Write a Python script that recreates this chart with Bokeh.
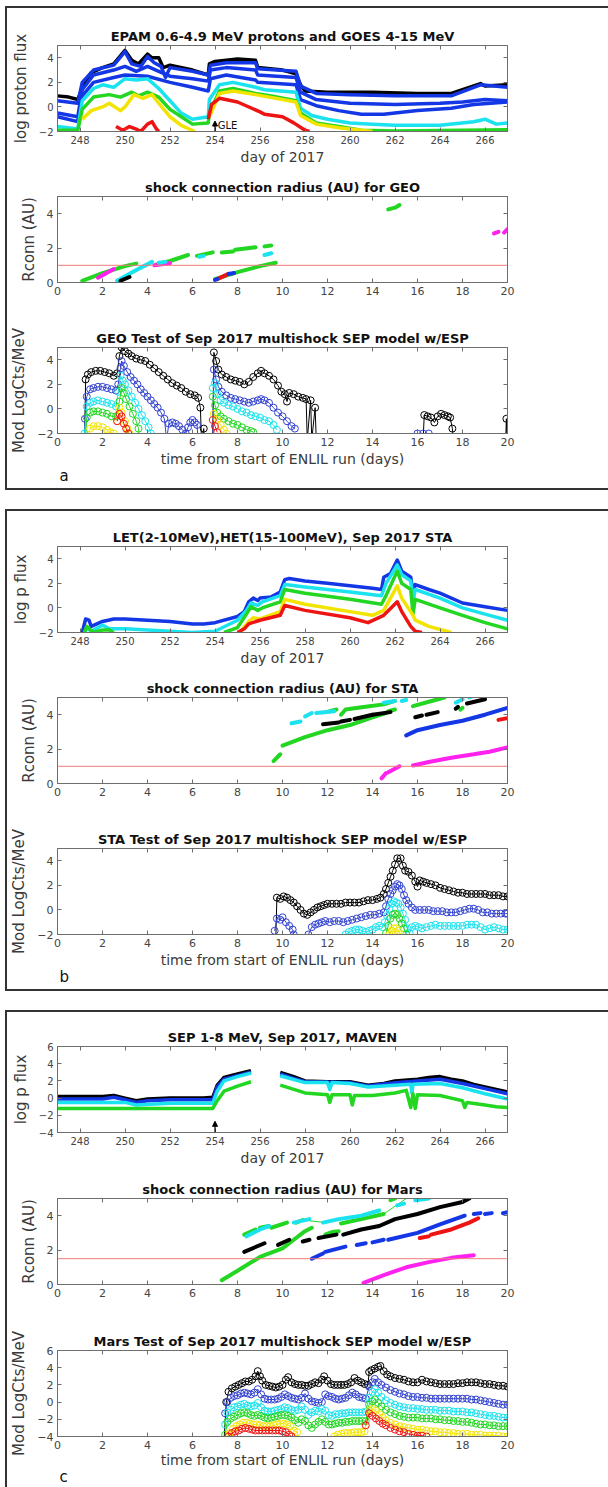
from bokeh.plotting import figure
from bokeh.layouts import column
from bokeh.models import (FixedTicker, LinearAxis, Range1d, Span, Label, Arrow,
                          NormalHead, CustomJSTickFormatter, Title)
from bokeh.embed import file_html
from bokeh.resources import INLINE

NAN = float("nan")
FONT = "DejaVu Sans"
AXC = "#6e6e6e"
TXT = "#3a3a3a"

C_BLACK = "#000000"
C_BLUE = "#1437e6"
C_MBLUE = "#3343cf"
C_CYAN = "#1ae2ee"
C_GREEN = "#22d622"
C_YELLOW = "#f2e400"
C_RED = "#ee1414"
C_MAG = "#ff22ee"
C_RLINE = "#f07a7a"

# ---------------- tick labels / ranges ----------------
DAY_TICKS = [248, 250, 252, 254, 256, 258, 260, 262, 264, 266]
RUN_TICKS = [0, 2, 4, 6, 8, 10, 12, 14, 16, 18, 20]
Y_TICKS_A = [-2, 0, 2, 4]
Y_TICKS_R = [0, 2, 4]
Y_TICKS_C = [-4, -2, 0, 2, 4, 6]

# ---------------- panel a: EPAM / GOES (day of 2017, log flux) ----------------
EPAM_BLACK = [(247.0, 0.9), (247.5, 0.8), (247.9, 0.6), (248.05, 1.3), (248.2, 2.0), (248.5, 2.8),
              (249.0, 3.2), (249.5, 3.5), (250.0, 4.6), (250.3, 3.8), (250.6, 3.5), (251.0, 4.3),
              (251.2, 4.0), (251.5, 4.0), (251.7, 3.2), (252.0, 3.4), (253.0, 3.0), (253.7, 2.6),
              (253.75, 3.5), (254.0, 3.7), (255.0, 3.9), (255.8, 3.8), (255.9, 3.2), (257.0, 3.0),
              (257.6, 2.7), (257.8, 1.8), (258.0, 1.3), (259.0, 1.2), (261.0, 1.2), (263.0, 1.1),
              (264.5, 1.1), (265.0, 1.4), (265.8, 1.9), (266.0, 1.7), (267.0, 1.8)]
EPAM_BLUE1 = [(247.0, 0.5), (247.9, 0.3), (248.1, 2.0), (248.6, 3.0), (249.5, 3.4), (250.0, 4.5),
              (250.3, 3.5), (250.7, 3.3), (251.0, 4.1), (251.3, 3.6), (251.6, 3.3), (251.8, 2.4),
              (252.0, 3.2), (253.0, 2.9), (253.7, 2.6), (253.8, 3.4), (254.5, 3.6), (255.8, 3.6),
              (255.9, 3.1), (257.6, 2.9), (257.8, 1.7), (258.5, 1.1), (260.0, 1.0), (262.0, 0.9),
              (264.5, 0.9), (265.8, 1.8), (267.0, 1.6)]
EPAM_BLUE2 = [(247.0, -0.5), (247.9, -0.8), (248.1, 1.4), (248.6, 2.6), (249.5, 3.0), (250.0, 3.3),
              (250.5, 2.9), (251.0, 3.3), (251.5, 2.9), (252.0, 2.5), (253.0, 2.3), (253.7, 2.1),
              (253.8, 3.0), (254.5, 3.2), (255.8, 3.0), (255.9, 2.6), (257.6, 2.4), (257.8, 1.2),
              (258.5, 0.6), (260.0, 0.3), (262.0, 0.2), (264.0, 0.3), (265.0, 0.4), (266.0, 0.6),
              (267.0, 0.5)]
EPAM_BLUE3 = [(247.0, -0.8), (247.9, -1.2), (248.1, 0.9), (248.6, 2.0), (249.5, 2.4), (250.0, 2.6),
              (251.0, 2.5), (252.0, 2.0), (253.0, 1.6), (253.7, 1.3), (253.8, 2.3), (254.5, 2.6),
              (255.8, 2.2), (255.9, 2.0), (257.6, 1.8), (257.8, 0.6), (258.5, 0.1), (259.5, -0.3),
              (260.5, -0.6), (261.5, -0.6), (263.0, -0.3), (264.5, -0.1), (265.5, 0.2), (267.0, 0.4)]
EPAM_CYAN = [(247.0, -1.6), (247.9, -1.8), (248.1, 0.5), (248.6, 1.5), (249.0, 1.8), (249.5, 1.6),
             (250.0, 2.3), (250.5, 2.2), (251.0, 2.3), (251.5, 1.5), (252.0, 0.5), (252.5, -0.5),
             (253.0, -1.0), (253.7, -0.8), (253.75, 0.6), (254.2, 1.8), (254.8, 2.0), (255.8, 1.6),
             (256.2, 1.4), (257.6, 1.2), (257.8, -0.1), (258.3, -0.7), (259.0, -1.0), (260.0, -1.3),
             (261.0, -1.4), (262.0, -1.5), (264.0, -1.5), (265.5, -1.2), (266.0, -1.0), (266.5, -1.4),
             (267.0, -1.3)]
EPAM_GREEN = [(247.0, -1.9), (247.9, -1.9), (248.1, -0.2), (248.6, 0.8), (249.3, 1.0), (249.8, 0.8),
              (250.3, 1.2), (250.6, 0.9), (251.0, 1.2), (251.5, 0.8), (252.0, -0.2), (252.5, -0.8),
              (253.0, -1.4), (253.7, -1.3), (253.75, -0.5), (254.2, 1.3), (254.8, 1.5), (255.8, 1.1),
              (256.5, 0.9), (257.6, 0.5), (257.8, -0.5), (258.5, -1.3), (259.5, -1.6), (260.5, -1.9),
              (262.0, -1.95), (265.0, -1.9), (267.0, -1.85)]
EPAM_YELLOW = [(248.1, -1.0), (248.5, -0.3), (249.0, 0.0), (249.3, 0.3), (249.8, -0.3), (250.0, 0.0),
               (250.4, 1.0), (250.8, 0.7), (251.2, 1.0), (251.5, 0.3), (252.0, -0.8), (252.5, -1.5),
               (253.1, -2.0), (NAN, NAN), (253.75, -0.8), (254.2, 1.1), (254.8, 1.3), (255.8, 1.0),
               (257.6, 0.4), (257.8, -0.7), (258.5, -1.4), (259.5, -1.7), (260.5, -1.9), (261.0, -2.0)]
GOES_RED = [(249.6, -1.6), (249.9, -1.9), (250.2, -1.6), (250.5, -1.8), (250.7, -2.0), (251.0, -1.4),
            (251.2, -1.2), (251.4, -1.8), (251.5, -2.0), (NAN, NAN), (253.7, -1.0), (253.85, 0.2),
            (254.2, 0.7), (255.0, 0.4), (256.0, -0.4), (256.2, -0.6), (257.0, -0.8), (257.5, -1.3),
            (258.0, -1.9), (258.2, -2.0)]
GLE_DAY = 254.0

# ---------------- panel a: Rconn for GEO ----------------
GEO_R_THRESHOLD = 1.0
GEO_R_GREEN = [[(1.1, 0.1), (2.0, 0.55), (3.0, 0.95), (3.5, 1.1)],
               [(4.4, 1.05), (5.0, 1.25), (5.8, 1.6)], [(6.2, 1.55), (6.9, 1.75)],
               [(7.3, 1.75), (7.8, 1.8)], [(7.9, 1.9), (8.8, 2.05)], [(9.2, 2.1), (9.5, 2.15)],
               [(7.0, 0.2), (8.0, 0.6), (9.0, 0.95), (9.7, 1.15)], [(14.7, 4.25), (15.0, 4.35), (15.2, 4.5)]]
GEO_R_MAG = [[(1.8, 0.28), (2.5, 0.78)], [(4.3, 1.0), (5.0, 1.12)], [(19.4, 2.85), (19.6, 2.95)],
             [(19.85, 2.9), (20.0, 3.1)]]
GEO_R_BLACK = [[(2.8, 0.1), (3.2, 0.32)]]
GEO_R_CYAN = [[(2.65, 0.1), (3.4, 0.65), (4.2, 1.2)], [(4.5, 1.15), (4.8, 1.2)], [(6.3, 1.5), (6.5, 1.55)],
              [(9.2, 1.6), (9.5, 1.7)]]
GEO_R_RED = [[(7.1, 0.2), (7.6, 0.5)]]
GEO_R_BLUE = [[(7.0, 0.15), (7.1, 0.2)], [(7.6, 0.5), (7.85, 0.55)]]

# ---------------- panel a: GEO model (run days, circles) ----------------
GEO_M_BLACK = [(1.2, -2.5), (1.25, 2.4), (1.35, 2.8), (1.5, 3.0), (1.7, 3.1), (1.9, 3.1), (2.1, 3.0),
               (2.3, 2.9), (2.5, 2.7), (2.65, 2.9), (2.75, 4.3), (2.85, 5.0), (3.0, 4.7), (3.15, 4.5),
               (3.3, 4.3), (3.5, 4.1), (3.7, 4.0), (3.9, 3.9), (4.1, 3.6), (4.3, 3.3), (4.5, 3.0),
               (4.7, 2.7), (4.9, 2.4), (5.1, 2.1), (5.3, 1.9), (5.5, 1.7), (5.7, 1.4), (5.9, 1.2),
               (6.1, 1.1), (6.25, 0.9), (6.35, 0.1), (6.4, -2.5), (6.5, -1.6), (6.52, -2.5), (NAN, NAN),
               (6.9, -2.5), (6.95, 4.6), (7.05, 3.9), (7.15, 3.2), (7.3, 2.8), (7.5, 2.6), (7.7, 2.4),
               (7.9, 2.3), (8.1, 2.2), (8.3, 2.0), (8.5, 2.2), (8.7, 2.6), (8.9, 2.9), (9.05, 3.1),
               (9.2, 2.9), (9.4, 2.7), (9.6, 2.4), (9.8, 1.9), (9.95, 1.4), (10.1, 1.2), (10.2, 0.6),
               (10.3, 1.3), (10.5, 1.2), (10.7, 1.0), (10.9, 0.9), (11.05, 0.8), (11.1, -2.5),
               (11.25, 0.7), (11.3, -2.5), (11.45, 0.1), (11.5, -2.5), (NAN, NAN),
               (16.25, -2.5), (16.3, -0.5), (16.45, -0.6), (16.6, -0.7), (16.75, -1.1), (16.9, -0.6),
               (17.05, -0.4), (17.2, -0.5), (17.35, -0.6), (17.45, -0.7), (17.55, -1.6), (17.6, -2.5),
               (NAN, NAN), (19.92, -2.5), (19.95, -0.8), (19.98, -2.5)]
GEO_M_BLUE = [(1.2, -2.5), (1.22, -0.8), (1.3, 1.0), (1.45, 1.6), (1.6, 1.7), (1.8, 1.8), (2.0, 1.8),
              (2.2, 1.7), (2.4, 1.6), (2.6, 1.5), (2.7, 2.0), (2.8, 3.3), (2.85, 3.9), (2.95, 3.5),
              (3.1, 3.0), (3.25, 2.6), (3.4, 2.3), (3.55, 2.0), (3.7, 1.6), (3.85, 1.3), (4.0, 1.0),
              (4.15, 0.7), (4.3, 0.4), (4.45, 0.1), (4.6, -0.3), (4.75, -0.8), (4.85, -2.5), (4.95, -1.2),
              (5.1, -1.1), (5.25, -1.2), (5.4, -1.4), (5.55, -1.7), (5.7, -2.0), (5.8, -1.5), (5.9, -1.1),
              (6.0, -0.9), (6.1, -1.1), (6.2, -1.3), (6.25, -2.5), (NAN, NAN),
              (6.9, -2.5), (6.95, 3.2), (7.05, 2.4), (7.15, 1.8), (7.3, 1.4), (7.5, 1.1), (7.7, 0.9),
              (7.9, 0.8), (8.1, 0.7), (8.3, 0.6), (8.5, 0.5), (8.7, 0.6), (8.9, 0.7), (9.05, 0.8),
              (9.2, 0.7), (9.4, 0.5), (9.6, 0.1), (9.8, -0.3), (10.0, -0.6), (10.2, -1.0), (10.4, -1.4),
              (10.55, -1.6), (NAN, NAN), (16.0, -2.0), (16.25, -2.0), (16.5, -2.0)]
GEO_M_CYAN = [(1.2, -2.0), (1.3, 0.2), (1.45, 0.5), (1.6, 0.6), (1.8, 0.7), (2.0, 0.6), (2.2, 0.5),
              (2.4, 0.4), (2.6, 0.2), (2.7, 1.4), (2.8, 2.7), (2.9, 2.3), (3.0, 2.0), (3.15, 1.5),
              (3.3, 1.0), (3.45, 0.5), (3.6, 0.0), (3.75, -0.5), (3.9, -1.0), (4.05, -1.5), (4.15, -2.0),
              (NAN, NAN), (6.9, 1.7), (7.0, 2.1), (7.1, 1.2), (7.25, 0.7), (7.4, 0.5), (7.6, 0.3),
              (7.8, 0.2), (8.0, 0.0), (8.2, -0.2), (8.4, -0.3), (8.6, -0.5), (8.8, -0.6), (9.0, -0.7),
              (9.2, -0.9), (9.4, -1.0), (9.6, -1.3), (9.75, -1.7)]
GEO_M_GREEN = [(1.25, -2.5), (1.3, -0.7), (1.45, -0.3), (1.6, -0.2), (1.8, -0.2), (2.0, -0.3),
               (2.2, -0.4), (2.4, -0.6), (2.6, -0.6), (2.75, 0.6), (2.85, 1.7), (2.95, 1.3), (3.05, 0.8),
               (3.2, 0.2), (3.35, -0.4), (3.5, -1.0), (3.6, -1.6), (3.65, -2.5), (NAN, NAN),
               (6.9, 1.0), (7.0, 0.3), (7.1, -0.3), (7.25, -0.6), (7.4, -0.8), (7.6, -1.0), (7.8, -1.2),
               (8.0, -1.3), (8.2, -1.5), (8.4, -1.7), (8.6, -1.8), (8.7, -1.9)]
GEO_M_YELLOW = [(1.35, -2.5), (1.45, -1.6), (1.6, -1.4), (1.8, -1.4), (2.0, -1.5), (2.2, -1.7),
                (2.35, -1.9), (2.5, -2.0), (NAN, NAN), (2.65, -1.0), (2.75, 0.1), (2.85, -0.3),
                (3.0, -1.0), (3.1, -1.6), (3.2, -2.0), (NAN, NAN), (6.95, -0.4), (7.1, -0.9),
                (7.25, -1.3), (7.4, -1.7), (7.5, -2.0)]
GEO_M_RED = [(2.65, -1.0), (2.75, -0.4), (2.85, -0.6), (2.95, -1.2), (3.05, -1.6), (3.15, -2.0),
             (NAN, NAN), (6.9, -0.9), (7.0, -1.4), (7.1, -1.9)]

# ---------------- panel b: STEREO-A LET/HET (day of 2017) ----------------
STA_BLUE = [(248.1, -2.0), (248.25, -0.9), (248.4, -1.0), (248.5, -1.5), (249.0, -1.1), (249.5, -0.9),
            (250.0, -0.9), (251.0, -1.0), (252.0, -1.1), (253.0, -1.3), (253.5, -1.3), (254.0, -1.2),
            (255.0, -0.7), (255.3, -0.3), (255.5, 0.5), (255.7, 0.8), (255.9, 0.6), (256.0, 0.8),
            (256.5, 0.9), (256.9, 1.3), (257.1, 2.3), (257.3, 2.4), (258.0, 2.2), (259.0, 2.0),
            (260.0, 1.8), (261.0, 1.6), (261.4, 1.5), (261.5, 2.5), (261.8, 2.8), (262.1, 3.9),
            (262.3, 3.0), (262.7, 2.5), (262.8, 1.2), (262.9, 1.9), (263.5, 1.5), (264.0, 1.2),
            (265.0, 0.4), (266.0, 0.1), (267.0, -0.2)]
STA_CYAN = [(248.2, -2.0), (248.3, -1.6), (248.5, -1.9), (249.0, -1.4), (249.3, -1.7), (250.0, -1.7),
            (251.0, -1.8), (252.0, -1.9), (253.0, -2.0), (254.0, -1.9), (255.0, -1.0), (255.4, -0.2),
            (255.6, 0.4), (255.9, 0.2), (256.1, 0.5), (256.9, 1.0), (257.1, 1.9), (258.0, 1.7),
            (260.0, 1.3), (261.4, 1.0), (261.6, 2.0), (262.1, 3.5), (262.3, 2.7), (262.7, 2.2),
            (262.8, 0.5), (262.9, 1.5), (264.0, 0.8), (265.0, 0.0), (266.0, -0.5), (267.0, -1.0)]
STA_GREEN = [(248.2, -2.0), (248.3, -1.5), (248.6, -2.0), (249.0, -1.8), (249.3, -1.8), (249.5, -2.0),
             (NAN, NAN), (254.4, -2.0), (255.0, -1.6), (255.4, -0.5), (255.6, 0.1), (255.9, -0.2),
             (256.1, 0.0), (256.9, 0.5), (257.1, 1.5), (258.0, 1.2), (260.0, 0.7), (261.4, 0.3),
             (261.6, 1.0), (262.1, 3.0), (262.3, 2.0), (262.7, 1.5), (262.8, -0.5), (262.9, 0.7),
             (264.0, 0.0), (265.0, -0.6), (266.0, -1.2), (267.0, -1.7)]
STA_YELLOW = [(255.1, -2.0), (255.5, -1.1), (255.7, -0.8), (256.0, -0.9), (256.9, -0.3), (257.1, 0.7),
              (258.0, 0.3), (260.0, -0.3), (261.0, -0.6), (261.5, -0.2), (262.1, 1.8), (262.3, 0.8),
              (262.8, -0.6), (262.9, -1.0), (263.5, -1.5), (264.5, -2.0)]
STA_RED = [(255.0, -2.0), (255.3, -1.7), (255.5, -1.3), (256.0, -1.0), (256.9, -0.6), (257.1, 0.2),
           (258.0, -0.2), (260.0, -0.8), (260.8, -1.2), (261.5, -0.6), (262.1, 0.5), (262.3, -0.3),
           (262.7, -1.5), (262.9, -1.9), (263.2, -2.0)]

# ---------------- panel b: Rconn for STA ----------------
STA_R_THRESHOLD = 1.0
STA_R_GREEN = [[(9.6, 1.3), (9.9, 1.7)], [(10.0, 2.2), (11.0, 2.7), (12.0, 3.1), (13.0, 3.4), (14.0, 3.85), (14.6, 4.1)],
               [(12.1, 4.2), (12.4, 4.3)], [(12.6, 4.0), (12.8, 4.3), (13.6, 4.45), (14.5, 4.6), (15.0, 4.8)],
               [(14.7, 4.2), (15.0, 4.3)], [(15.8, 4.5), (16.5, 4.75), (17.2, 5.0)], [(17.9, 4.3), (18.0, 4.4)]]
STA_R_CYAN = [[(10.4, 3.5), (10.8, 3.6)], [(11.0, 3.9), (11.3, 4.1)], [(11.5, 4.1), (12.3, 4.2)],
              [(14.5, 4.7), (15.0, 4.8)], [(15.3, 4.8), (15.5, 4.85)], [(17.7, 4.7), (18.0, 4.9)],
              [(18.3, 5.0), (18.5, 5.1)]]
STA_R_BLACK = [[(11.8, 3.45), (12.5, 3.55)], [(12.6, 3.6), (13.0, 3.7)], [(13.2, 3.75), (14.0, 4.0)],
               [(14.0, 4.0), (14.8, 4.15)], [(15.9, 3.85), (16.2, 3.95)], [(16.4, 4.0), (16.9, 4.15)],
               [(17.7, 4.35), (17.8, 4.45)], [(18.2, 4.65), (19.0, 4.9)]]
STA_R_BLUE = [[(15.5, 2.8), (16.0, 3.1), (17.0, 3.4), (18.0, 3.65), (19.0, 4.0), (20.0, 4.4)]]
STA_R_RED = [[(19.6, 3.7), (20.0, 3.8)]]
STA_R_MAG = [[(14.4, 0.3), (14.6, 0.6)], [(14.7, 0.65), (15.2, 1.0)],
             [(15.8, 1.05), (16.5, 1.25), (17.5, 1.5), (18.5, 1.7), (19.2, 1.85), (20.0, 2.1)]]

# ---------------- panel b: STA model ----------------
STA_M_BLACK = [(9.7, -2.5), (9.75, 1.0), (9.9, 0.9), (10.05, 1.1), (10.2, 1.0), (10.35, 0.8), (10.5, 0.6),
               (10.65, 0.3), (10.8, 0.0), (10.95, -0.3), (11.1, -0.4), (11.25, -0.2), (11.4, 0.0),
               (11.55, 0.2), (11.7, 0.3), (11.85, 0.4), (12.0, 0.5), (12.2, 0.5), (12.4, 0.5), (12.6, 0.5),
               (12.8, 0.6), (13.0, 0.6), (13.2, 0.6), (13.4, 0.6), (13.6, 0.7), (13.8, 0.8), (14.0, 0.8),
               (14.2, 0.9), (14.35, 1.0), (14.5, 1.3), (14.6, 1.7), (14.7, 2.2), (14.8, 2.7), (14.9, 3.2),
               (15.0, 3.7), (15.1, 4.2), (15.25, 4.2), (15.35, 3.6), (15.45, 3.2), (15.6, 3.1), (15.75, 2.8),
               (15.9, 2.3), (16.0, 1.9), (16.1, 2.4), (16.25, 2.3), (16.4, 2.2), (16.6, 2.1), (16.8, 2.0),
               (17.0, 1.8), (17.2, 1.7), (17.4, 1.6), (17.6, 1.5), (17.8, 1.4), (18.0, 1.4), (18.2, 1.3),
               (18.4, 1.3), (18.6, 1.3), (18.8, 1.3), (19.0, 1.3), (19.2, 1.2), (19.4, 1.2), (19.6, 1.2),
               (19.8, 1.1), (20.0, 1.1)]
STA_M_BLUE = [(9.65, -1.7), (9.75, -0.7), (9.9, -0.8), (10.0, -0.6), (10.15, -1.0), (10.3, -1.3),
              (10.45, -1.6), (10.5, -2.0), (10.55, -2.5), (NAN, NAN), (11.15, -2.0), (11.3, -1.4),
              (11.45, -1.2), (11.6, -1.1), (11.75, -1.0), (11.9, -0.9), (12.1, -1.0), (12.3, -0.9),
              (12.5, -0.9), (12.7, -1.0), (12.9, -0.9), (13.1, -0.8), (13.3, -0.7), (13.5, -0.6),
              (13.7, -0.5), (13.9, -0.4), (14.1, -0.4), (14.3, -0.3), (14.5, -0.2), (14.6, 0.3),
              (14.7, 0.9), (14.8, 1.3), (14.9, 1.6), (15.0, 1.9), (15.1, 2.1), (15.2, 2.0), (15.3, 1.7),
              (15.4, 1.2), (15.5, 0.8), (15.6, 0.5), (15.75, 0.2), (15.9, 0.0), (16.1, 0.0), (16.3, 0.0),
              (16.5, 0.0), (16.7, -0.1), (16.9, -0.1), (17.1, -0.1), (17.3, -0.2), (17.5, -0.2),
              (17.7, -0.2), (17.9, -0.1), (18.1, 0.0), (18.3, 0.1), (18.5, 0.1), (18.7, 0.0), (18.9, -0.2),
              (19.1, -0.2), (19.3, -0.3), (19.5, -0.3), (19.7, -0.3), (19.9, -0.3), (20.0, -0.3)]
STA_M_CYAN = [(12.8, -2.0), (12.95, -1.8), (13.1, -1.7), (13.25, -1.6), (13.4, -1.6), (13.55, -1.7),
              (13.7, -1.8), (13.85, -1.7), (14.0, -1.6), (14.15, -1.4), (14.3, -1.3), (14.45, -1.4),
              (14.55, -1.0), (14.65, -0.5), (14.75, 0.1), (14.85, 0.5), (14.95, 0.7), (15.05, 0.6),
              (15.15, 0.5), (15.25, 0.2), (15.35, -0.3), (15.45, -0.8), (15.55, -1.5), (15.65, -1.9),
              (15.75, -1.4), (15.9, -1.3), (16.05, -1.4), (16.2, -1.5), (16.4, -1.4), (16.6, -1.3),
              (16.8, -1.2), (17.0, -1.3), (17.2, -1.3), (17.4, -1.3), (17.6, -1.3), (17.8, -1.3),
              (18.0, -1.3), (18.2, -1.2), (18.4, -1.2), (18.6, -1.2), (18.8, -1.4), (19.0, -1.6),
              (19.2, -1.5), (19.4, -1.4), (19.6, -1.5), (19.8, -1.6), (20.0, -1.6)]
STA_M_GREEN = [(14.6, -1.9), (14.7, -1.3), (14.8, -0.7), (14.9, -0.4), (15.0, -0.3), (15.1, -0.4),
               (15.2, -0.7), (15.3, -1.1), (15.4, -1.5), (15.5, -2.0)]
STA_M_YELLOW = [(14.75, -2.0), (14.85, -1.7), (14.95, -1.5), (15.05, -1.5), (15.15, -1.7), (15.25, -2.0)]

# ---------------- panel c: MAVEN SEP (day of 2017) ----------------
MAVEN_BLACK = [(247.0, 0.2), (249.0, 0.2), (249.5, 0.3), (250.0, 0.0), (250.5, -0.3), (251.0, -0.1),
               (252.0, 0.0), (253.5, 0.0), (253.9, 0.1), (254.1, 1.5), (254.4, 2.4), (255.0, 2.8),
               (255.6, 3.2), (NAN, NAN), (256.9, 3.0), (257.5, 2.5), (258.0, 2.0), (259.0, 1.9),
               (260.0, 1.9), (260.8, 1.5), (261.5, 1.7), (262.0, 2.0), (263.0, 2.2), (263.5, 2.4),
               (264.0, 2.5), (264.5, 2.2), (265.0, 2.0), (265.5, 1.6), (266.0, 1.3), (267.0, 0.7)]
MAVEN_BLUE = [(247.0, -0.1), (249.0, -0.1), (249.5, 0.1), (250.0, -0.2), (250.5, -0.5), (251.0, -0.3),
              (252.0, -0.2), (253.9, -0.2), (254.1, 1.3), (254.4, 2.2), (255.0, 2.6), (255.6, 3.0),
              (NAN, NAN), (256.9, 2.8), (257.5, 2.3), (258.0, 1.9), (260.0, 1.8), (260.8, 1.4),
              (262.0, 1.8), (263.0, 2.0), (264.0, 2.2), (265.0, 1.7), (266.0, 1.1), (267.0, 0.5)]
MAVEN_CYAN = [(247.0, -0.5), (250.0, -0.5), (250.5, -0.8), (252.0, -0.6), (253.9, -0.6), (254.1, 0.8),
              (254.4, 2.0), (255.0, 2.5), (255.6, 2.9), (NAN, NAN), (256.9, 2.6), (258.0, 1.8),
              (259.0, 1.8), (259.1, 1.0), (259.2, 1.8), (260.0, 1.7), (260.8, 1.3), (262.0, 1.5),
              (262.7, 1.6), (262.75, 0.6), (262.8, 1.6), (264.0, 1.7), (265.0, 1.2), (266.0, 0.5),
              (267.0, -0.1)]
MAVEN_GREEN = [(247.0, -1.2), (253.9, -1.2), (254.1, -0.3), (254.4, 0.8), (255.0, 1.4), (255.6, 1.9),
               (NAN, NAN), (256.9, 1.5), (258.0, 0.6), (259.0, 0.4), (259.1, -0.5), (259.2, 0.4),
               (260.0, 0.4), (260.1, -0.8), (260.2, 0.3), (261.0, 0.3), (262.0, 0.6), (262.5, 0.9),
               (262.7, -1.1), (262.8, 0.5), (262.9, -1.2), (263.0, 0.4), (264.0, 0.3), (264.5, 0.0),
               (265.0, -0.3), (265.1, -1.1), (265.2, -0.5), (266.0, -0.8), (266.5, -1.0), (267.0, -1.1)]
MAVEN_EVENT_DAY = 254.0

# ---------------- panel c: Rconn for Mars ----------------
MARS_R_THRESHOLD = 1.5
MARS_R_GREEN = [[(7.3, 0.25), (8.0, 0.8), (9.0, 1.6), (10.0, 2.1), (10.5, 2.6), (11.0, 3.1), (11.3, 3.3)],
                [(8.3, 2.9), (8.8, 3.2)], [(9.0, 3.3), (9.4, 3.4)], [(9.5, 3.3), (10.2, 3.6)],
                [(10.6, 3.6), (10.9, 3.75)], [(11.9, 2.9), (12.1, 3.0)], [(12.2, 3.05), (12.5, 3.1)],
                [(12.6, 3.55), (13.5, 3.8), (14.5, 4.1)], [(14.8, 4.9), (15.0, 5.0)]]
MARS_R_GREEN_THIN = [[(10.9, 3.75), (11.9, 3.6)], [(14.5, 4.1), (15.5, 5.0)]]
MARS_R_CYAN = [[(8.4, 2.8), (9.0, 3.2), (9.4, 3.4)], [(10.5, 3.6), (11.2, 3.8)],
               [(11.8, 3.6), (12.5, 3.8), (13.5, 4.0), (14.3, 4.3)], [(15.1, 4.6), (15.4, 4.7)],
               [(15.9, 4.9), (16.5, 5.0)]]
MARS_R_BLACK = [[(8.3, 1.9), (9.2, 2.4)], [(9.8, 2.3), (10.3, 2.6)], [(10.9, 2.5), (11.2, 2.6)],
                [(11.6, 2.7), (12.4, 2.9)], [(12.7, 2.9), (13.5, 3.2), (14.3, 3.4), (15.0, 3.8),
                                             (16.0, 4.1), (17.0, 4.5), (18.0, 4.8), (18.3, 5.0)]]
MARS_R_BLUE = [[(11.3, 1.5), (11.8, 1.8)], [(11.9, 1.9), (12.8, 2.2)], [(13.3, 2.3), (13.7, 2.4)],
               [(14.0, 2.45), (14.5, 2.6)], [(14.7, 2.6), (16.0, 3.0), (17.0, 3.5), (18.1, 4.0)],
               [(18.5, 4.1), (18.8, 4.15)], [(19.0, 4.1), (19.3, 4.15)], [(19.8, 4.15), (20.0, 4.2)]]
MARS_R_RED = [[(16.1, 2.7), (16.5, 2.8)], [(16.6, 2.9), (17.5, 3.2), (18.3, 3.6), (18.7, 3.85)]]
MARS_R_MAG = [[(13.6, 0.1), (14.5, 0.55), (15.5, 1.0), (16.5, 1.3), (17.5, 1.55), (18.5, 1.7)]]

# ---------------- panel c: Mars model ----------------
MARS_M_BLACK = [(7.4, -4.5), (7.5, 0.0), (7.6, 1.2), (7.75, 1.6), (7.9, 1.8), (8.05, 2.0), (8.2, 2.2),
                (8.35, 2.4), (8.5, 2.4), (8.65, 2.6), (8.8, 3.0), (8.9, 3.6), (9.0, 3.0), (9.1, 2.5),
                (9.25, 2.0), (9.4, 1.9), (9.55, 1.8), (9.7, 1.7), (9.85, 1.8), (10.0, 2.0), (10.15, 2.6),
                (10.25, 2.9), (10.4, 2.3), (10.55, 2.1), (10.7, 2.0), (10.85, 2.0), (11.0, 1.9),
                (11.15, 1.9), (11.3, 2.1), (11.45, 2.3), (11.6, 2.2), (11.75, 2.6), (11.85, 3.0),
                (12.0, 2.5), (12.15, 2.1), (12.3, 2.0), (12.45, 2.0), (12.6, 2.0), (12.75, 2.0),
                (12.9, 2.1), (13.05, 2.3), (13.2, 2.8), (13.35, 2.5), (13.5, 2.3), (13.65, 2.1),
                (13.8, 2.0), (13.85, 3.5), (13.95, 3.7), (14.1, 3.9), (14.25, 4.1), (14.35, 4.2),
                (14.5, 3.6), (14.65, 3.2), (14.8, 3.0), (15.0, 2.8), (15.2, 2.7), (15.4, 2.6), (15.6, 2.4),
                (15.8, 2.3), (16.0, 2.3), (16.2, 2.6), (16.4, 2.4), (16.6, 2.3), (16.8, 2.2), (17.0, 2.1),
                (17.2, 2.1), (17.4, 2.1), (17.6, 2.1), (17.8, 2.2), (18.0, 2.2), (18.2, 2.3), (18.4, 2.3),
                (18.6, 2.3), (18.8, 2.2), (19.0, 2.1), (19.2, 2.1), (19.4, 2.0), (19.6, 1.9), (19.8, 1.9),
                (20.0, 1.8)]
MARS_M_BLUE = [(7.45, -1.3), (7.55, 0.0), (7.7, 0.5), (7.85, 0.7), (8.0, 0.8), (8.15, 1.0), (8.3, 1.1),
               (8.45, 1.0), (8.6, 0.9), (8.75, 1.1), (8.9, 1.5), (9.05, 0.9), (9.2, 0.4), (9.35, 0.3),
               (9.5, 0.3), (9.65, 0.3), (9.8, 0.4), (9.95, 0.6), (10.1, 0.9), (10.25, 0.7), (10.4, 0.5),
               (10.55, 0.4), (10.7, 0.3), (10.85, 0.5), (11.0, 1.0), (11.15, 0.4), (11.3, 0.1),
               (11.45, 0.0), (11.6, -0.1), (11.75, 0.0), (11.9, 0.9), (12.05, 0.7), (12.2, 0.6),
               (12.35, 0.4), (12.5, 0.3), (12.65, 0.4), (12.8, 0.5), (12.95, 0.8), (13.1, 1.1),
               (13.25, 0.9), (13.4, 0.6), (13.55, 0.5), (13.7, 0.4), (13.85, 1.8), (14.0, 2.3),
               (14.1, 2.7), (14.25, 2.3), (14.4, 2.0), (14.6, 1.7), (14.8, 1.4), (15.0, 1.2), (15.2, 1.0),
               (15.4, 0.9), (15.6, 0.7), (15.8, 0.6), (16.0, 0.6), (16.2, 0.5), (16.4, 0.5), (16.6, 0.4),
               (16.8, 0.4), (17.0, 0.4), (17.2, 0.4), (17.4, 0.4), (17.6, 0.4), (17.8, 0.4), (18.0, 0.4),
               (18.2, 0.4), (18.4, 0.3), (18.6, 0.3), (18.8, 0.2), (19.0, 0.1), (19.2, 0.0), (19.4, -0.1),
               (19.6, -0.2), (19.8, -0.3), (20.0, -0.3)]
MARS_M_CYAN = [(7.45, -2.6), (7.55, -1.2), (7.7, -0.9), (7.85, -0.6), (8.0, -0.5), (8.15, -0.3),
               (8.3, -0.2), (8.45, -0.4), (8.6, -0.5), (8.75, -0.4), (8.9, -0.1), (9.05, -0.6),
               (9.2, -1.0), (9.35, -1.1), (9.5, -1.1), (9.65, -1.0), (9.8, -0.9), (9.95, -0.8),
               (10.1, -0.6), (10.25, -0.7), (10.4, -0.9), (10.55, -1.0), (10.7, -0.9), (10.85, -0.5),
               (11.0, -0.9), (11.15, -1.5), (11.3, -1.2), (11.45, -1.0), (11.6, -1.1), (11.75, -0.8),
               (11.9, -1.0), (12.05, -1.5), (12.2, -1.6), (12.35, -1.4), (12.5, -1.4), (12.65, -1.3),
               (12.8, -1.3), (12.95, -1.2), (13.1, -1.2), (13.25, -1.2), (13.4, -1.2), (13.55, -1.2),
               (13.7, -1.1), (13.85, 0.5), (14.0, 1.2), (14.1, 1.5), (14.25, 1.1), (14.4, 0.6),
               (14.6, 0.2), (14.8, -0.1), (15.0, -0.3), (15.2, -0.5), (15.4, -0.6), (15.6, -0.7),
               (15.8, -0.7), (16.0, -0.8), (16.2, -0.8), (16.4, -0.9), (16.6, -0.9), (16.8, -0.9),
               (17.0, -1.0), (17.2, -1.0), (17.4, -1.0), (17.6, -1.1), (17.8, -1.1), (18.0, -1.1),
               (18.2, -1.2), (18.4, -1.2), (18.6, -1.3), (18.8, -1.4), (19.0, -1.5), (19.2, -1.6),
               (19.4, -1.6), (19.6, -1.7), (19.8, -1.8), (20.0, -1.8)]
MARS_M_GREEN = [(7.45, -3.8), (7.55, -2.3), (7.7, -1.9), (7.85, -1.7), (8.0, -1.5), (8.15, -1.3),
                (8.3, -1.2), (8.45, -1.3), (8.6, -1.5), (8.75, -1.6), (8.9, -1.5), (9.05, -1.6),
                (9.2, -1.8), (9.35, -1.9), (9.5, -1.8), (9.65, -1.7), (9.8, -1.6), (9.95, -1.5),
                (10.1, -1.5), (10.25, -1.6), (10.4, -1.8), (10.55, -2.1), (10.7, -2.4), (10.85, -2.0),
                (11.0, -2.2), (11.15, -2.7), (11.3, -3.0), (11.45, -2.6), (11.6, -2.3), (11.75, -2.0),
                (11.9, -2.3), (12.05, -2.6), (12.2, -2.6), (12.35, -2.5), (12.5, -2.4), (12.65, -2.4),
                (12.8, -2.3), (12.95, -2.3), (13.1, -2.2), (13.25, -2.2), (13.4, -2.2), (13.55, -2.2),
                (13.7, -2.2), (13.85, -0.3), (14.0, 0.1), (14.1, 0.3), (14.25, -0.1), (14.4, -0.5),
                (14.6, -0.9), (14.8, -1.2), (15.0, -1.4), (15.2, -1.6), (15.4, -1.7), (15.6, -1.8),
                (15.8, -1.8), (16.0, -1.8), (16.2, -1.9), (16.4, -1.9), (16.6, -1.9), (16.8, -2.0),
                (17.0, -2.0), (17.2, -2.1), (17.4, -2.1), (17.6, -2.2), (17.8, -2.2), (18.0, -2.3),
                (18.2, -2.3), (18.4, -2.4), (18.6, -2.5), (18.8, -2.6), (19.0, -2.6), (19.2, -2.7),
                (19.4, -2.7), (19.6, -2.8), (19.8, -2.8), (20.0, -2.8)]
MARS_M_YELLOW = [(7.55, -4.5), (7.65, -3.6), (7.8, -3.1), (7.95, -2.8), (8.1, -2.6), (8.25, -2.4),
                 (8.4, -2.4), (8.55, -2.5), (8.7, -2.6), (8.85, -2.6), (9.0, -2.7), (9.15, -2.8),
                 (9.3, -2.8), (9.45, -2.8), (9.6, -2.7), (9.75, -2.6), (9.9, -2.5), (10.05, -2.5),
                 (10.2, -2.6), (10.35, -2.8), (10.5, -3.3), (10.65, -3.5), (10.75, -4.5), (NAN, NAN),
                 (12.3, -4.0), (12.45, -3.8), (12.6, -3.7), (12.75, -3.6), (12.9, -3.6), (13.05, -3.6),
                 (13.2, -3.5), (13.35, -3.5), (13.5, -3.5), (13.65, -3.4), (13.85, -1.0), (14.0, -0.8),
                 (14.15, -1.0), (14.3, -1.4), (14.45, -1.8), (14.6, -2.1), (14.8, -2.4), (15.0, -2.6),
                 (15.2, -2.8), (15.4, -2.9), (15.6, -3.0), (15.8, -3.1), (16.0, -3.2), (16.2, -3.2),
                 (16.4, -3.3), (16.6, -3.4), (16.8, -3.4), (17.0, -3.5), (17.2, -3.5), (17.4, -3.6),
                 (17.6, -3.6), (17.8, -3.7), (18.0, -3.7), (18.2, -3.7), (18.4, -3.8), (18.6, -3.8),
                 (18.8, -3.8), (19.0, -3.9), (19.2, -3.9), (19.4, -3.9), (19.6, -3.9), (19.8, -4.0),
                 (20.0, -4.0)]
MARS_M_RED = [(7.6, -4.0), (7.75, -3.6), (7.9, -3.4), (8.05, -3.3), (8.2, -3.1), (8.35, -3.0),
              (8.5, -3.1), (8.65, -3.2), (8.8, -3.3), (8.95, -3.3), (9.1, -3.3), (9.25, -3.3),
              (9.4, -3.3), (9.55, -3.3), (9.7, -3.3), (9.85, -3.3), (10.0, -3.4), (10.15, -3.5),
              (10.3, -3.8), (10.4, -4.0), (NAN, NAN), (13.7, -2.7), (13.85, -1.3), (14.0, -1.6),
              (14.15, -1.9), (14.3, -2.2), (14.45, -2.5), (14.6, -2.7), (14.8, -3.0), (15.0, -3.2),
              (15.2, -3.4), (15.4, -3.5), (15.6, -3.7), (15.8, -3.8), (16.0, -3.9), (16.2, -3.9),
              (16.4, -4.0)]

# ---------------- titles / labels ----------------
TITLES = {
    "a1": "EPAM 0.6-4.9 MeV protons and GOES 4-15 MeV",
    "a2": "shock connection radius (AU) for GEO",
    "a3": "GEO Test of Sep 2017 multishock SEP model w/ESP",
    "b1": "LET(2-10MeV),HET(15-100MeV), Sep 2017 STA",
    "b2": "shock connection radius (AU) for STA",
    "b3": "STA Test of Sep 2017 multishock SEP model w/ESP",
    "c1": "SEP 1-8 MeV, Sep 2017, MAVEN",
    "c2": "shock connection radius (AU) for Mars",
    "c3": "Mars Test of Sep 2017 multishock SEP model w/ESP",
}
PANEL_LETTERS = ["a", "b", "c"]


def xy(pairs):
    return [p[0] for p in pairs], [p[1] for p in pairs]


def segs(list_of_pairs):
    return [[p[0] for p in s] for s in list_of_pairs], [[p[1] for p in s] for s in list_of_pairs]


def make_fig(h, top, bottom, xr, yr, xticks, yticks, title, xlabel, ylabel, letter=None, tick_px="11px",
             xlabel_standoff=2):
    p = figure(width=601, height=h, x_range=Range1d(*xr), y_range=Range1d(*yr),
               output_backend="svg", toolbar_location=None,
               min_border_left=50, min_border_right=101, min_border_top=top, min_border_bottom=bottom,
               x_axis_label=xlabel, y_axis_label=ylabel, title=title)
    p.title.align = "center"
    p.title.text_font = FONT
    p.title.text_font_size = "13px"
    p.title.text_font_style = "bold"
    p.title.text_color = "#111111"
    p.title.standoff = 4
    p.xgrid.visible = False
    p.ygrid.visible = False
    p.outline_line_color = AXC
    p.outline_line_width = 1
    p.xaxis.ticker = FixedTicker(ticks=xticks)
    p.yaxis.ticker = FixedTicker(ticks=yticks)
    for ax in p.xaxis + p.yaxis:
        ax.major_tick_in = 4
        ax.major_tick_out = 0
        ax.minor_tick_in = 0
        ax.minor_tick_out = 0
        ax.axis_line_color = AXC
        ax.major_tick_line_color = AXC
        ax.major_label_text_font = FONT
        ax.major_label_text_font_size = tick_px
        ax.major_label_text_color = "#444444"
        ax.axis_label_text_font = FONT
        ax.axis_label_text_font_style = "normal"
        ax.axis_label_text_color = TXT
        ax.major_label_standoff = 4
    p.xaxis.axis_label_text_font_size = "14px"
    p.yaxis.axis_label_text_font_size = "15px"
    p.xaxis.axis_label_standoff = xlabel_standoff
    p.yaxis.axis_label_standoff = 6
    blank = CustomJSTickFormatter(code="return ''")
    top_ax = LinearAxis(ticker=FixedTicker(ticks=xticks), formatter=blank, major_tick_in=4,
                        major_tick_out=0, minor_tick_in=0, minor_tick_out=0, axis_line_color=AXC,
                        major_tick_line_color=AXC, major_label_standoff=0)
    right_ax = LinearAxis(ticker=FixedTicker(ticks=yticks), formatter=blank, major_tick_in=4,
                          major_tick_out=0, minor_tick_in=0, minor_tick_out=0, axis_line_color=AXC,
                          major_tick_line_color=AXC, major_label_standoff=0)
    p.add_layout(top_ax, "above")
    p.add_layout(right_ax, "right")
    if letter is not None:
        p.add_layout(Title(text=letter, align="left", offset=2, standoff=-9, text_font=FONT,
                           text_font_size="15px", text_font_style="normal", text_color="#111111"),
                     "below")
    return p


def flux_lines(p, series):
    for pairs, color in series:
        x, y = xy(pairs)
        p.line(x, y, line_color=color, line_width=3.5, line_join="round")


def rconn(p, groups, threshold):
    p.add_layout(Span(location=threshold, dimension="width", line_color=C_RLINE, line_width=1))
    for pairs, color, width in groups:
        xs, ys = segs(pairs)
        p.multi_line(xs, ys, line_color=color, line_width=width, line_cap="round")


def model(p, series):
    for pairs, color in series:
        x, y = xy(pairs)
        p.line(x, y, line_color=color, line_width=1)
        p.scatter(x, y, marker="circle", size=7, fill_color=None, line_color=color, line_width=1)


# ---------------- panel a ----------------
fa1 = make_fig(164, 37, 41, (247, 267), (-2, 5), DAY_TICKS, Y_TICKS_A, TITLES["a1"], "day of 2017",
               "log proton flux", tick_px="10px")
flux_lines(fa1, [(EPAM_BLACK, C_BLACK), (EPAM_BLUE3, C_BLUE), (EPAM_BLUE2, C_BLUE), (EPAM_BLUE1, C_BLUE),
                 (EPAM_CYAN, C_CYAN), (EPAM_GREEN, C_GREEN), (EPAM_YELLOW, C_YELLOW), (GOES_RED, C_RED)])
fa1.add_layout(Arrow(end=NormalHead(size=5, fill_color="black", line_color="black"), x_start=GLE_DAY,
                     y_start=-2.0, x_end=GLE_DAY, y_end=-1.15, line_width=1.2))
fa1.add_layout(Label(x=GLE_DAY + 0.12, y=-1.55, text="GLE", text_font=FONT, text_font_size="10px",
                     text_color="#111111", text_baseline="middle"))

fa2 = make_fig(133, 24, 23, (0, 20), (0, 5), RUN_TICKS, Y_TICKS_R, TITLES["a2"], None, "Rconn (AU)")
rconn(fa2, [(GEO_R_GREEN, C_GREEN, 4), (GEO_R_MAG, C_MAG, 4), (GEO_R_CYAN, C_CYAN, 4),
            (GEO_R_BLACK, C_BLACK, 4), (GEO_R_RED, C_RED, 4), (GEO_R_BLUE, C_BLUE, 4)], GEO_R_THRESHOLD)

fa3 = make_fig(183, 42, 55, (0, 20), (-2, 5), RUN_TICKS, Y_TICKS_A, TITLES["a3"],
               "time from start of ENLIL run (days)", "Mod LogCts/MeV", PANEL_LETTERS[0])
model(fa3, [(GEO_M_BLACK, C_BLACK), (GEO_M_BLUE, C_MBLUE), (GEO_M_CYAN, C_CYAN), (GEO_M_GREEN, C_GREEN),
            (GEO_M_YELLOW, C_YELLOW), (GEO_M_RED, C_RED)])

# ---------------- panel b ----------------
fb1 = make_fig(161, 35, 40, (247, 267), (-2, 5), DAY_TICKS, Y_TICKS_A, TITLES["b1"], "day of 2017",
               "log p flux", tick_px="10px")
flux_lines(fb1, [(STA_BLUE, C_BLUE), (STA_CYAN, C_CYAN), (STA_GREEN, C_GREEN), (STA_YELLOW, C_YELLOW),
                 (STA_RED, C_RED)])

fb2 = make_fig(134, 25, 23, (0, 20), (0, 5), RUN_TICKS, Y_TICKS_R, TITLES["b2"], None, "Rconn (AU)")
rconn(fb2, [(STA_R_GREEN, C_GREEN, 4), (STA_R_CYAN, C_CYAN, 4), (STA_R_BLACK, C_BLACK, 4),
            (STA_R_BLUE, C_BLUE, 4), (STA_R_RED, C_RED, 4), (STA_R_MAG, C_MAG, 4)], STA_R_THRESHOLD)

fb3 = make_fig(183, 42, 55, (0, 20), (-2, 5), RUN_TICKS, Y_TICKS_A, TITLES["b3"],
               "time from start of ENLIL run (days)", "Mod LogCts/MeV", PANEL_LETTERS[1])
model(fb3, [(STA_M_BLACK, C_BLACK), (STA_M_BLUE, C_MBLUE), (STA_M_CYAN, C_CYAN), (STA_M_GREEN, C_GREEN),
            (STA_M_YELLOW, C_YELLOW)])

# ---------------- panel c ----------------
fc1 = make_fig(162, 34, 42, (247, 267), (-4, 6), DAY_TICKS, Y_TICKS_C, TITLES["c1"], "day of 2017",
               "log p flux", tick_px="10px")
flux_lines(fc1, [(MAVEN_BLACK, C_BLACK), (MAVEN_BLUE, C_BLUE), (MAVEN_CYAN, C_CYAN), (MAVEN_GREEN, C_GREEN)])
fc1.add_layout(Arrow(end=NormalHead(size=5, fill_color="black", line_color="black"), x_start=MAVEN_EVENT_DAY,
                     y_start=-4.0, x_end=MAVEN_EVENT_DAY, y_end=-2.7, line_width=1.2))

fc2 = make_fig(133, 24, 23, (0, 20), (0, 5), RUN_TICKS, Y_TICKS_R, TITLES["c2"], None, "Rconn (AU)")
rconn(fc2, [(MARS_R_GREEN_THIN, C_GREEN, 1), (MARS_R_GREEN, C_GREEN, 4), (MARS_R_CYAN, C_CYAN, 4),
            (MARS_R_BLACK, C_BLACK, 4), (MARS_R_BLUE, C_BLUE, 4), (MARS_R_RED, C_RED, 4),
            (MARS_R_MAG, C_MAG, 4)], MARS_R_THRESHOLD)

fc3 = make_fig(180, 43, 51, (0, 20), (-4, 6), RUN_TICKS, Y_TICKS_C, TITLES["c3"],
               "time from start of ENLIL run (days)", "Mod LogCts/MeV", PANEL_LETTERS[2], xlabel_standoff=0)
model(fc3, [(MARS_M_BLACK, C_BLACK), (MARS_M_BLUE, C_MBLUE), (MARS_M_CYAN, C_CYAN),
            (MARS_M_GREEN, C_GREEN), (MARS_M_YELLOW, C_YELLOW), (MARS_M_RED, C_RED)])

BORDER = "2px solid #333333"
pa = column(fa1, fa2, fa3, spacing=0, margin=(6, 0, 0, 5),
            styles={"border-top": BORDER, "border-left": BORDER, "border-bottom": BORDER})
pb = column(fb1, fb2, fb3, spacing=0, margin=(19, 0, 0, 5),
            styles={"border-top": BORDER, "border-left": BORDER, "border-bottom": BORDER})
pc = column(fc1, fc2, fc3, spacing=0, margin=(19, 0, 0, 5),
            styles={"border-top": BORDER, "border-left": BORDER})
root = column(pa, pb, pc, spacing=0)

open("out.html", "w").write(file_html(root, INLINE))
